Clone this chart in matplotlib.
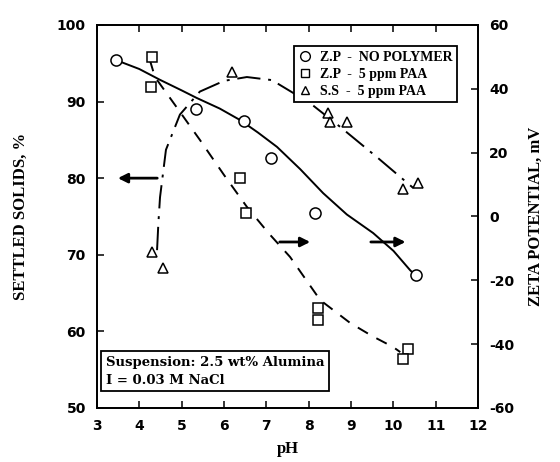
import matplotlib.pyplot as plt
from matplotlib.lines import Line2D

plt.rcParams['axes.unicode_minus'] = False

# Z.P - no polymer (zeta potential, mV)
ph_zp0 = [3.45, 5.34, 6.47, 7.11, 8.15, 10.52]
zeta_zp0 = [49.0, 33.7, 29.9, 18.3, 1.1, -18.4]

# Z.P - 5 ppm PAA (zeta potential, mV)
ph_zp5 = [4.30, 4.28, 6.38, 6.52, 8.22, 8.22, 10.35, 10.23]
zeta_zp5 = [50.0, 40.6, 12.0, 1.1, -28.7, -32.5, -41.6, -44.7]

# S.S - 5 ppm PAA (settled solids, %)
ph_ss = [4.30, 4.56, 6.19, 8.45, 8.50, 8.91, 10.23, 10.59]
ss_ss = [70.4, 68.3, 93.9, 88.5, 87.3, 87.3, 78.6, 79.4]

# hand-drawn fit curves
fit_zp0_ph = [3.45, 4.0, 4.49, 5.0, 5.36, 5.9, 6.38, 6.8, 7.25, 7.8, 8.34, 8.9, 9.52, 10.0, 10.39, 10.51]
fit_zp0_z = [49.0, 46.2, 42.8, 39.5, 37.1, 33.8, 30.2, 26.3, 21.8, 14.8, 7.3, 0.6, -5.2, -10.8, -16.8, -18.4]

fit_zp5_ph = [4.25, 4.37, 4.84, 5.43, 6.0, 6.54, 7.05, 7.56, 8.27, 8.98, 9.5, 9.99, 10.16]
fit_zp5_z = [49.0, 43.7, 35.0, 24.0, 13.0, 3.0, -5.2, -12.7, -26.2, -33.4, -37.5, -40.9, -42.5]

fit_ss_ph = [4.42, 4.45, 4.49, 4.63, 4.96, 5.43, 6.0, 6.54, 7.13, 8.03, 8.74, 9.64, 10.47]
fit_ss_v = [70.6, 74.0, 77.5, 83.7, 88.3, 91.3, 92.7, 93.2, 92.8, 89.8, 86.7, 82.6, 78.7]

serif = 'Liberation Serif'
boxfont = 'DejaVu Serif'

fig = plt.figure(figsize=(5.6, 4.62), dpi=100)
ax = fig.add_axes([0.173, 0.117, 0.681, 0.829])
ax2 = ax.twinx()

ax.plot(fit_ss_ph, fit_ss_v, color='black', lw=1.4, dashes=(12, 4, 1.5, 4))
ax.plot(ph_ss, ss_ss, '^', ms=7, mfc='white', mec='black', mew=1.1)

ax2.plot(fit_zp0_ph, fit_zp0_z, color='black', lw=1.4)
ax2.plot(fit_zp5_ph, fit_zp5_z, color='black', lw=1.4, dashes=(6, 5))
ax2.plot(ph_zp0, zeta_zp0, 'o', ms=8, mfc='white', mec='black', mew=1.1)
ax2.plot(ph_zp5, zeta_zp5, 's', ms=7, mfc='white', mec='black', mew=1.1)

# arrows telling which axis belongs to which curve
ax.annotate('', xy=(3.43, 80.0), xytext=(4.49, 80.0),
            arrowprops=dict(arrowstyle='-|>', color='black', lw=2, mutation_scale=14))
ax2.annotate('', xy=(8.1, -8.0), xytext=(7.25, -8.0),
             arrowprops=dict(arrowstyle='-|>', color='black', lw=2, mutation_scale=14))
ax2.annotate('', xy=(10.35, -8.0), xytext=(9.4, -8.0),
             arrowprops=dict(arrowstyle='-|>', color='black', lw=2, mutation_scale=14))

ax.set_xlim(3, 12)
ax.set_ylim(50, 100)
ax2.set_ylim(-60, 60)
ax.set_xticks(range(3, 13))
ax.set_yticks(range(50, 101, 10))
ax2.set_yticks(range(-60, 61, 20))

for a in (ax, ax2):
    a.tick_params(direction='in', length=5, width=1.1, labelsize=10)
    for lab in a.get_xticklabels() + a.get_yticklabels():
        lab.set_fontweight('bold')
    for s in a.spines.values():
        s.set_linewidth(1.3)
ax.tick_params(top=True, pad=8)
ax2.tick_params(pad=8)

ax.set_xlabel('pH', fontsize=12, fontweight='bold', family=serif, labelpad=6)
ax.set_ylabel('SETTLED SOLIDS, %', fontsize=12, fontweight='bold', family=serif, labelpad=20)
ax2.set_ylabel('ZETA POTENTIAL, mV', fontsize=12, fontweight='bold', family=serif, labelpad=10)

handles = [
    Line2D([], [], ls='none', marker='o', ms=7, mfc='white', mec='black'),
    Line2D([], [], ls='none', marker='s', ms=6, mfc='white', mec='black'),
    Line2D([], [], ls='none', marker='^', ms=6, mfc='white', mec='black'),
]
labels = ['Z.P  -  NO POLYMER', 'Z.P  -  5 ppm PAA', 'S.S  -  5 ppm PAA']
leg = ax2.legend(handles, labels, loc='upper right', bbox_to_anchor=(0.963, 0.962),
                 prop={'family': serif, 'size': 10, 'weight': 'bold'},
                 frameon=True, fancybox=False, edgecolor='black', framealpha=1,
                 handlelength=1, handletextpad=0.6, borderpad=0.3, labelspacing=0.3)
leg.get_frame().set_linewidth(1.3)

ax.text(0.024, 0.063, 'Suspension: 2.5 wt% Alumina\nI = 0.03 M NaCl',
        transform=ax.transAxes, family=boxfont, fontsize=9.5, fontweight='bold',
        linespacing=1.5,
        bbox=dict(boxstyle='square,pad=0.35', fc='white', ec='black', lw=1.3))

fig.savefig('out.png', dpi=100)
